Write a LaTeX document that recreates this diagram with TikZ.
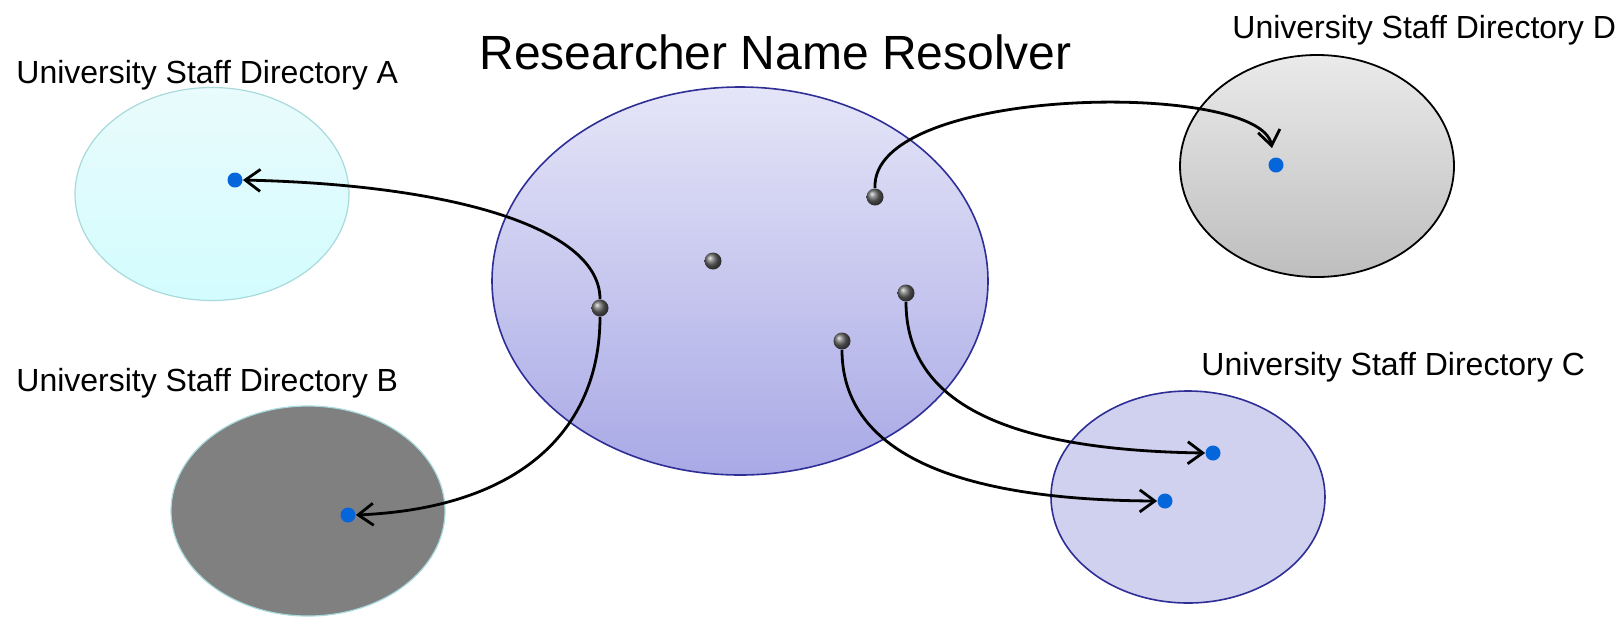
\documentclass[tikz,border=0pt]{standalone}
\usepackage{fontspec}
\setmainfont{Liberation Sans}
\usetikzlibrary{shapes.geometric,arrows.meta}

\definecolor{resolvertop}{HTML}{E5E5F8}
\definecolor{resolverbot}{HTML}{A9A9E6}
\definecolor{resolverrim}{HTML}{2E2E96}
\definecolor{cyantop}{HTML}{E9FBFC}
\definecolor{cyanbot}{HTML}{D3FCFE}
\definecolor{cyanrim}{HTML}{A8DADC}
\definecolor{greytop}{HTML}{EAEAEA}
\definecolor{greybot}{HTML}{BEBEBE}
\definecolor{lilac}{HTML}{D0D0EF}
\definecolor{dotblue}{HTML}{0466DA}

% one picture unit is one pixel of the 1623 x 617 drawing (1pt = 2 units)
\tikzset{
  dirbox/.style={ellipse, inner sep=0pt, line width=0.6pt},
  label/.style={font=\fontsize{16}{18}\selectfont, inner sep=0pt, anchor=base west},
  entity/.style={circle, inner sep=0pt, minimum size=8.5pt, shading=ball, ball color=gray!80!black},
  target/.style={circle, inner sep=0pt, minimum size=7.5pt, fill=dotblue},
  link/.style={line width=1.4pt, -{Straight Barb[length=7.5pt,width=11pt,line width=1.4pt]}},
}

\begin{document}
\begin{tikzpicture}[x=0.5pt, y=-0.5pt]
  \useasboundingbox (0,0) rectangle (1623,617);

  % directories
  \node[dirbox, draw=cyanrim, top color=cyantop, bottom color=cyanbot,
        minimum width=137pt, minimum height=106.5pt] (dirA) at (212,194) {};
  \node[dirbox, draw=cyanrim, fill=gray,
        minimum width=137pt, minimum height=105pt] (dirB) at (308,511) {};
  \node[dirbox, draw=resolverrim, line width=0.8pt, top color=resolvertop, bottom color=resolverbot,
        minimum width=248pt, minimum height=194pt] (resolver) at (740,281) {};
  \node[dirbox, draw=resolverrim, line width=0.8pt, fill=lilac,
        minimum width=137pt, minimum height=106pt] (dirC) at (1188,497) {};
  \node[dirbox, draw=black, line width=0.9pt, top color=greytop, bottom color=greybot,
        minimum width=137pt, minimum height=111pt] (dirD) at (1317,166) {};

  % labels
  \node[label, font=\fontsize{24}{28}\selectfont] (title) at (479,69) {Researcher Name Resolver};
  \node[label] (labA) at (16,83) {University Staff Directory A};
  \node[label] (labB) at (16,391) {University Staff Directory B};
  \node[label] (labC) at (1201,375) {University Staff Directory C};
  \node[label] (labD) at (1232,38) {University Staff Directory D};
  \node[label, anchor=north west] (page) at (1621,605) {8};

  % entities inside the resolver
  \node[entity] (e0) at (713,261) {};
  \node[entity] (e1) at (600,308) {};
  \node[entity] (e2) at (875,197) {};
  \node[entity] (e3) at (906,293) {};
  \node[entity] (e4) at (842,341) {};

  % matched records in the directories
  \node[target] (tA) at (235,180) {};
  \node[target] (tB) at (348,515) {};
  \node[target] (tC1) at (1213,453) {};
  \node[target] (tC2) at (1165,501) {};
  \node[target] (tD) at (1276,165) {};
  \coordinate (tipD) at (1272,148);

  % links
  \draw[link] (e1.north) .. controls (600,230) and (460,185) .. (tA.east);
  \draw[link] (e1.south) .. controls (600,430) and (520,508) .. (tB.east);
  \draw[link] (e3.south) .. controls (906,400) and (1000,450) .. (tC1.west);
  \draw[link] (e4.south) .. controls (842,450) and (950,500) .. (tC2.west);
  \draw[link] (e2.north) .. controls (870,85) and (1260,80) .. (tipD);
\end{tikzpicture}
\end{document}
